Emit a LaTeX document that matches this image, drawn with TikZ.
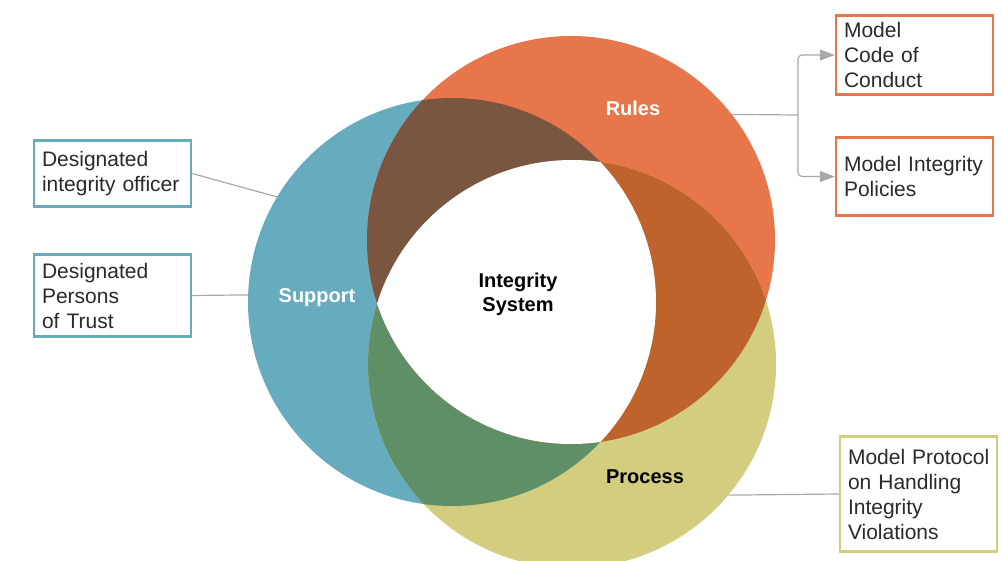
\documentclass[tikz,border=0pt]{standalone}
\usepackage{fontspec}
\setmainfont{Liberation Sans}
\usetikzlibrary{arrows.meta}
\definecolor{blueC}{HTML}{67ABBE}
\definecolor{orangeC}{HTML}{E7774A}
\definecolor{yellowC}{HTML}{D2CD7F}
\definecolor{brownC}{HTML}{7A5640}
\definecolor{dorangeC}{HTML}{BE632B}
\definecolor{greenC}{HTML}{5F8F66}
\definecolor{lineC}{HTML}{A8A8A8}
\definecolor{txtC}{HTML}{2A2A2A}
\tikzset{
  infobox/.style={draw, line width=2.5pt, fill=white, text width=141pt, inner xsep=8pt, inner ysep=0pt, align=left, text=txtC, font=\fontsize{21}{25}\selectfont},
  ring/.style={circle, minimum size=408pt, inner sep=0pt, outer sep=0pt},
  conn/.style={draw=lineC, line width=1.2pt},
  lbl/.style={font=\fontsize{20}{24}\selectfont\bfseries, anchor=base, inner sep=0pt}
}
\begin{document}
\begin{tikzpicture}[x=1pt,y=-1pt]
\clip (0,0) rectangle (1002,560);
\fill[white] (0,0) rectangle (1002,560);
% circle centers
\coordinate (cS) at (452,302);
\coordinate (cR) at (571,240);
\coordinate (cP) at (572,364);
\node[ring] (Sc) at (cS) {};
\node[ring] (Rc) at (cR) {};
\node[ring] (Pc) at (cP) {};
% base circles
\fill[blueC] (cS) circle[radius=204pt];
\fill[orangeC] (cR) circle[radius=204pt];
\fill[yellowC] (cP) circle[radius=204pt];
% pairwise overlaps
\begin{scope}
  \clip (cS) circle[radius=204pt];
  \fill[brownC] (cR) circle[radius=204pt];
  \fill[greenC] (cP) circle[radius=204pt];
\end{scope}
\begin{scope}
  \clip (cR) circle[radius=204pt];
  \fill[dorangeC] (cP) circle[radius=204pt];
\end{scope}
% triple overlap
\begin{scope}
  \clip (cS) circle[radius=204pt];
  \clip (cR) circle[radius=204pt];
  \fill[white] (cP) circle[radius=204pt];
\end{scope}
% labels
\node[lbl, text=white] (rules) at (633,115) {Rules};
\node[lbl, text=white] (support) at (317,302) {Support};
\node[lbl, text=black] (integ) at (518,287) {Integrity};
\node[lbl, text=black] (system) at (518,311) {System};
\node[lbl, text=black] (process) at (645,483) {Process};
% boxes
\node[infobox, draw=orangeC, minimum height=79pt] (coc) at (914.5,55) {Model\\Code of\\Conduct};
\node[infobox, draw=orangeC, minimum height=78pt] (pol) at (914.5,176.5) {\mbox{Model Integrity}\\Policies};
\node[infobox, draw=blueC, minimum height=66pt] (off) at (112.5,173.5) {Designated\\\mbox{integrity officer}};
\node[infobox, draw=blueC, minimum height=82pt] (pers) at (112.5,295.5) {Designated\\Persons\\of Trust};
\node[infobox, draw=yellowC, minimum height=115pt] (prot) at (918.5,494) {\mbox{Model Protocol}\\\mbox{on Handling}\\Integrity\\Violations};
% connectors
\coordinate (br) at (798,115);
\draw[conn] (Rc.38.5) -- (br);
\draw[conn, rounded corners=4pt, -{Triangle[length=15pt,width=11pt]}] (br) |- (coc.west);
\draw[conn, rounded corners=4pt, -{Triangle[length=15pt,width=11pt]}] (br) |- (pol.west);
\draw[conn] (off.east) -- (Sc.149);
\draw[conn] (pers.east) -- (Sc.178);
\draw[conn] (Pc.-40) -- (prot.west);
\end{tikzpicture}
\end{document}
